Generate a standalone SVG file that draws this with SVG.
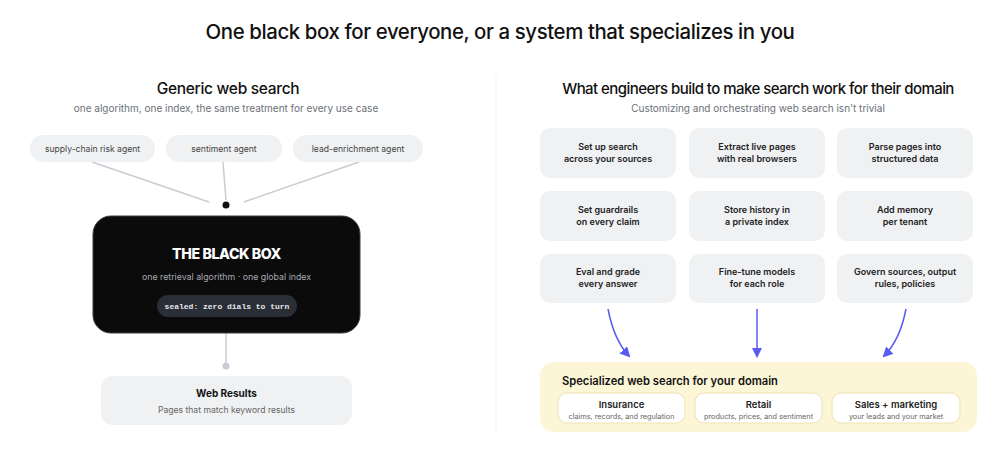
<svg xmlns="http://www.w3.org/2000/svg" width="1000" height="458" viewBox="0 0 1000 458">
<style>
text{font-family:Inter,"Noto Sans","Liberation Sans",sans-serif;}
.h1{font-size:20.4px;font-weight:500;fill:#111;text-anchor:middle;letter-spacing:-0.4px}
.h2{font-size:15.5px;font-weight:500;fill:#111;text-anchor:middle;letter-spacing:-0.3px}
.h2r{font-size:15px;font-weight:500;fill:#111;text-anchor:middle;letter-spacing:-0.55px}
.sub{font-size:10px;fill:#6b6f76;text-anchor:middle}
.pill{fill:#f0f1f3}
.pt{font-size:8.6px;fill:#444;text-anchor:middle}
.card{fill:#f0f1f3}
.ct{font-size:9px;font-weight:600;fill:#222;text-anchor:middle}
.conn{stroke:#c9ccd3;stroke-width:1.5;fill:none}
.arr{stroke:#5a5cf0;stroke-width:1.5;fill:none}
.dom{fill:#fff;stroke:#efe2b0;stroke-width:1}
.dt{font-size:9.5px;font-weight:600;fill:#222;text-anchor:middle}
.ds{font-size:7.3px;fill:#666;text-anchor:middle}
</style>
<defs>
<marker id="ah" viewBox="0 0 10 10" refX="8" refY="5" markerWidth="7" markerHeight="7" orient="auto-start-reverse">
<path d="M0,0 L10,5 L0,10 z" fill="#5a5cf0"/>
</marker>
</defs>
<rect width="1000" height="458" fill="#fff"/>
<text class="h1" x="500" y="39">One black box for everyone, or a system that specializes in you</text>
<line x1="496" y1="75" x2="496" y2="432" stroke="#eeeff1" stroke-width="1"/>

<text class="h2" x="228" y="94">Generic web search</text>
<text class="sub" x="226" y="112">one algorithm, one index, the same treatment for every use case</text>
<text class="h2r" x="758" y="94">What engineers build to make search work for their domain</text>
<text class="sub" x="758" y="112">Customizing and orchestrating web search isn't trivial</text>

<g id="connectors">
<line class="conn" x1="92" y1="162" x2="209" y2="202"/>
<line class="conn" x1="223" y1="162" x2="226" y2="200"/>
<line class="conn" x1="359" y1="162" x2="244" y2="202"/>
<circle cx="226" cy="205" r="3.5" fill="#111"/>
<line class="conn" x1="226" y1="333" x2="226" y2="366"/>
<circle cx="226" cy="366" r="3.5" fill="#c9ccd3"/>
<path class="arr" d="M608,309 Q614,340 629,356" marker-end="url(#ah)"/>
<line class="arr" x1="757" y1="309" x2="757" y2="356" marker-end="url(#ah)"/>
<path class="arr" d="M906,309 Q900,340 884,356" marker-end="url(#ah)"/>
</g>

<g id="agent-supply">
<rect class="pill" x="30" y="135" width="125" height="27" rx="13.5"/>
<text class="pt" x="92.5" y="152">supply-chain risk agent</text>
</g>
<g id="agent-sentiment">
<rect class="pill" x="166" y="135" width="116" height="27" rx="13.5"/>
<text class="pt" x="224" y="152">sentiment agent</text>
</g>
<g id="agent-lead">
<rect class="pill" x="293" y="135" width="130" height="27" rx="13.5"/>
<text class="pt" x="358" y="152">lead-enrichment agent</text>
</g>

<g id="black-box">
<rect x="93" y="216" width="267" height="117" rx="18" fill="#0b0b0c" stroke="#3a3d44" stroke-width="1"/>
<text x="226.5" y="259" text-anchor="middle" font-size="14.2" font-weight="800" fill="#fff" letter-spacing="-0.4">THE BLACK BOX</text>
<text x="226.5" y="280" text-anchor="middle" font-size="8.8" fill="#a6a9b0">one retrieval algorithm · one global index</text>
<rect x="157" y="295" width="140" height="22" rx="11" fill="#2a2e37"/>
<text x="227" y="309" text-anchor="middle" font-size="8" font-weight="700" fill="#e6e7ea" style="font-family:'Liberation Mono','DejaVu Sans Mono',monospace">sealed: zero dials to turn</text>
</g>

<g id="web-results">
<rect class="card" x="101" y="376" width="251" height="49" rx="12"/>
<text x="226.5" y="397" text-anchor="middle" font-size="10" font-weight="700" fill="#111">Web Results</text>
<text x="226.5" y="413" text-anchor="middle" font-size="8.6" fill="#666">Pages that match keyword results</text>
</g>

<g id="c1"><rect class="card" x="540" y="128" width="136" height="50" rx="10"/><text class="ct" x="608" y="150">Set up search</text><text class="ct" x="608" y="162">across your sources</text></g>
<g id="c2"><rect class="card" x="689" y="128" width="136" height="50" rx="10"/><text class="ct" x="757" y="150">Extract live pages</text><text class="ct" x="757" y="162">with real browsers</text></g>
<g id="c3"><rect class="card" x="837" y="128" width="136" height="50" rx="10"/><text class="ct" x="905" y="150">Parse pages into</text><text class="ct" x="905" y="162">structured data</text></g>
<g id="c4"><rect class="card" x="540" y="191" width="136" height="50" rx="10"/><text class="ct" x="608" y="213">Set guardrails</text><text class="ct" x="608" y="225">on every claim</text></g>
<g id="c5"><rect class="card" x="689" y="191" width="136" height="50" rx="10"/><text class="ct" x="757" y="213">Store history in</text><text class="ct" x="757" y="225">a private index</text></g>
<g id="c6"><rect class="card" x="837" y="191" width="136" height="50" rx="10"/><text class="ct" x="905" y="213">Add memory</text><text class="ct" x="905" y="225">per tenant</text></g>
<g id="c7"><rect class="card" x="540" y="254" width="136" height="49" rx="10"/><text class="ct" x="608" y="275">Eval and grade</text><text class="ct" x="608" y="287">every answer</text></g>
<g id="c8"><rect class="card" x="689" y="254" width="136" height="49" rx="10"/><text class="ct" x="757" y="275">Fine-tune models</text><text class="ct" x="757" y="287">for each role</text></g>
<g id="c9"><rect class="card" x="837" y="254" width="136" height="49" rx="10"/><text class="ct" x="905" y="275">Govern sources, output</text><text class="ct" x="905" y="287">rules, policies</text></g>

<g id="specialized">
<rect x="540" y="362" width="437" height="70" rx="14" fill="#fcf6d7"/>
<text x="562" y="385" font-size="11.2" font-weight="600" fill="#111">Specialized web search for your domain</text>
<g id="d1"><rect class="dom" x="558" y="393" width="127" height="30" rx="9"/><text class="dt" x="621.5" y="408">Insurance</text><text class="ds" x="621.5" y="419">claims, records, and regulation</text></g>
<g id="d2"><rect class="dom" x="695" y="393" width="127" height="30" rx="9"/><text class="dt" x="758.5" y="408">Retail</text><text class="ds" x="758.5" y="419">products, prices, and sentiment</text></g>
<g id="d3"><rect class="dom" x="832" y="393" width="128" height="30" rx="9"/><text class="dt" x="896" y="408">Sales + marketing</text><text class="ds" x="896" y="419">your leads and your market</text></g>
</g>
</svg>
